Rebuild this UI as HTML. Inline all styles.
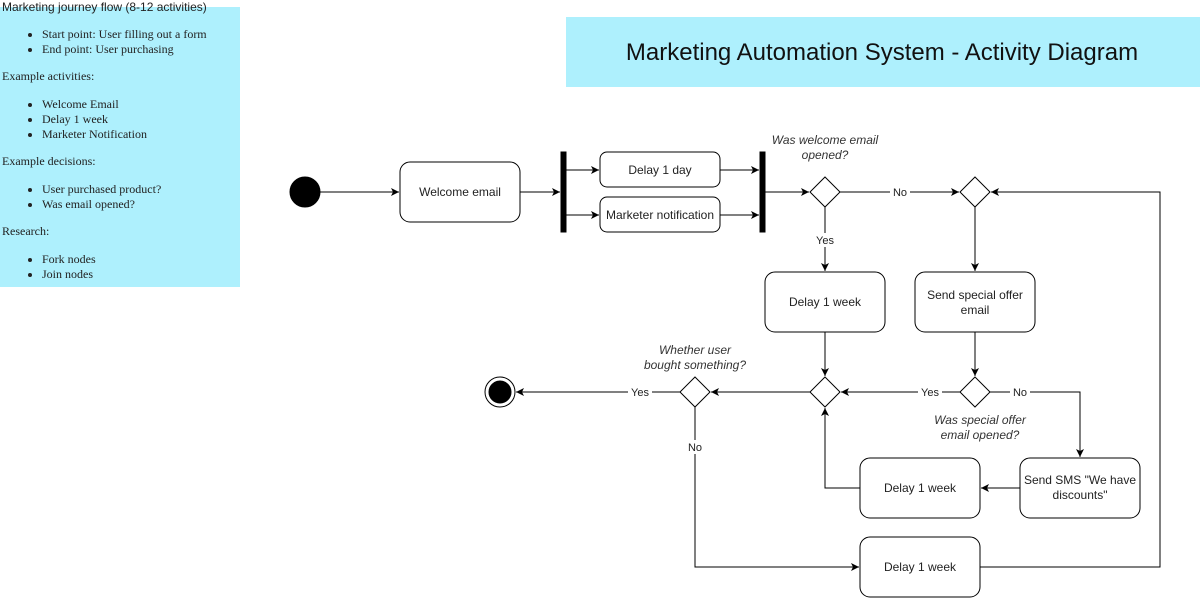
<!DOCTYPE html>
<html><head><meta charset="utf-8"><style>
body{margin:0;background:#fff;width:1200px;height:598px;overflow:hidden}
svg{display:block}
.n{font-family:"Liberation Sans",Arial,sans-serif;font-size:12px;fill:#222}
.i{font-family:"Liberation Sans",Arial,sans-serif;font-size:12px;font-style:italic;fill:#333}
.lb{font-family:"Liberation Sans",Arial,sans-serif;font-size:11px;fill:#222}
#note{position:absolute;left:0;top:7px;width:240px;height:280px;background:#aef0fd;font-family:"Liberation Serif",serif;font-size:12px;color:#222}
#note ul{margin:0;padding-left:42px}
#note p{margin:0}
</style></head><body>
<svg width="1200" height="598" viewBox="0 0 1200 598">
<defs><marker id="a" markerWidth="10" markerHeight="10" refX="8" refY="4" orient="auto" markerUnits="userSpaceOnUse"><path d="M0,0 L8,4 L0,8 L2,4 z" fill="#000"/></marker></defs>
<rect x="0" y="7" width="240" height="280" fill="#aef0fd"/>
<rect x="566" y="17" width="634" height="70" fill="#aef0fd"/>
<text x="882" y="60" text-anchor="middle" font-family="Liberation Sans,Arial,sans-serif" font-size="24" fill="#111">Marketing Automation System - Activity Diagram</text>
<g stroke="#000" fill="none" stroke-width="1">
<circle cx="305" cy="192" r="15" fill="#000"/>
<line x1="320" y1="192" x2="399" y2="192" marker-end="url(#a)"/>
<rect x="400" y="162" width="120" height="60" rx="10" fill="#fff"/>
<line x1="520" y1="192" x2="560" y2="192" marker-end="url(#a)"/>
<rect x="561" y="152" width="5" height="80" fill="#000"/>
<line x1="566" y1="170" x2="599" y2="170" marker-end="url(#a)"/>
<line x1="566" y1="215" x2="599" y2="215" marker-end="url(#a)"/>
<rect x="600" y="152" width="120" height="35" rx="7" fill="#fff"/>
<rect x="600" y="197" width="120" height="35" rx="7" fill="#fff"/>
<line x1="720" y1="170" x2="759" y2="170" marker-end="url(#a)"/>
<line x1="720" y1="215" x2="759" y2="215" marker-end="url(#a)"/>
<rect x="760" y="152" width="5" height="80" fill="#000"/>
<line x1="765" y1="192" x2="809" y2="192" marker-end="url(#a)"/>
<path d="M825 177 L840 192 L825 207 L810 192 Z" fill="#fff"/>
<line x1="840" y1="192" x2="959" y2="192" marker-end="url(#a)"/>
<path d="M975 177 L990 192 L975 207 L960 192 Z" fill="#fff"/>
<line x1="825" y1="207" x2="825" y2="271" marker-end="url(#a)"/>
<line x1="975" y1="207" x2="975" y2="271" marker-end="url(#a)"/>
<rect x="765" y="272" width="120" height="60" rx="10" fill="#fff"/>
<rect x="915" y="272" width="120" height="60" rx="10" fill="#fff"/>
<line x1="825" y1="332" x2="825" y2="376" marker-end="url(#a)"/>
<line x1="975" y1="332" x2="975" y2="376" marker-end="url(#a)"/>
<path d="M825 377 L840 392 L825 407 L810 392 Z" fill="#fff"/>
<path d="M975 377 L990 392 L975 407 L960 392 Z" fill="#fff"/>
<line x1="960" y1="392" x2="841" y2="392" marker-end="url(#a)"/>
<polyline points="990,392 1080,392 1080,457" marker-end="url(#a)"/>
<rect x="1020" y="458" width="120" height="60" rx="10" fill="#fff"/>
<line x1="1020" y1="488" x2="981" y2="488" marker-end="url(#a)"/>
<rect x="860" y="458" width="120" height="60" rx="10" fill="#fff"/>
<polyline points="860,488 825,488 825,408" marker-end="url(#a)"/>
<line x1="810" y1="392" x2="711" y2="392" marker-end="url(#a)"/>
<path d="M695 377 L710 392 L695 407 L680 392 Z" fill="#fff"/>
<line x1="680" y1="392" x2="516" y2="392" marker-end="url(#a)"/>
<circle cx="500" cy="392" r="15" fill="#fff"/>
<circle cx="500" cy="392" r="11" fill="#000"/>
<polyline points="695,407 695,567 859,567" marker-end="url(#a)"/>
<rect x="860" y="537" width="120" height="60" rx="10" fill="#fff"/>
<polyline points="980,567 1160,567 1160,192 991,192" marker-end="url(#a)"/>
</g>
<g class="n" text-anchor="middle">
<text x="460" y="196">Welcome email</text>
<text x="660" y="174">Delay 1 day</text>
<text x="660" y="219">Marketer notification</text>
<text x="825" y="306">Delay 1 week</text>
<text x="975" y="299">Send special offer</text>
<text x="975" y="314">email</text>
<text x="1080" y="484">Send SMS "We have</text>
<text x="1080" y="499">discounts"</text>
<text x="920" y="492">Delay 1 week</text>
<text x="920" y="571">Delay 1 week</text>
</g>
<g class="i" text-anchor="middle">
<text x="825" y="144">Was welcome email</text>
<text x="825" y="159">opened?</text>
<text x="980" y="424">Was special offer</text>
<text x="980" y="439">email opened?</text>
<text x="695" y="354">Whether user</text>
<text x="695" y="369">bought something?</text>
</g>
<g class="lb" text-anchor="middle">
<rect x="890" y="185" width="20" height="14" fill="#fff"/><text x="900" y="196">No</text>
<rect x="813" y="233" width="24" height="14" fill="#fff"/><text x="825" y="244">Yes</text>
<rect x="918" y="385" width="24" height="14" fill="#fff"/><text x="930" y="396">Yes</text>
<rect x="1010" y="385" width="20" height="14" fill="#fff"/><text x="1020" y="396">No</text>
<rect x="628" y="385" width="24" height="14" fill="#fff"/><text x="640" y="396">Yes</text>
<rect x="685" y="440" width="20" height="14" fill="#fff"/><text x="695" y="451">No</text>
</g>
</svg>
<div id="note">
<div style="position:absolute;top:-7px;left:2px;font-family:'Liberation Sans',sans-serif;font-size:12px;white-space:nowrap">Marketing journey flow (8-12 activities)</div>
<ul style="margin-top:20px"><li>Start point: User filling out a form</li><li>End point: User purchasing</li></ul>
<p style="margin-top:12px;padding-left:2px">Example activities:</p>
<ul style="margin-top:13px"><li>Welcome Email</li><li>Delay 1 week</li><li>Marketer Notification</li></ul>
<p style="margin-top:12px;padding-left:2px">Example decisions:</p>
<ul style="margin-top:13px"><li>User purchased product?</li><li>Was email opened?</li></ul>
<p style="margin-top:12px;padding-left:2px">Research:</p>
<ul style="margin-top:13px"><li>Fork nodes</li><li>Join nodes</li></ul>
</div>
</body></html>
